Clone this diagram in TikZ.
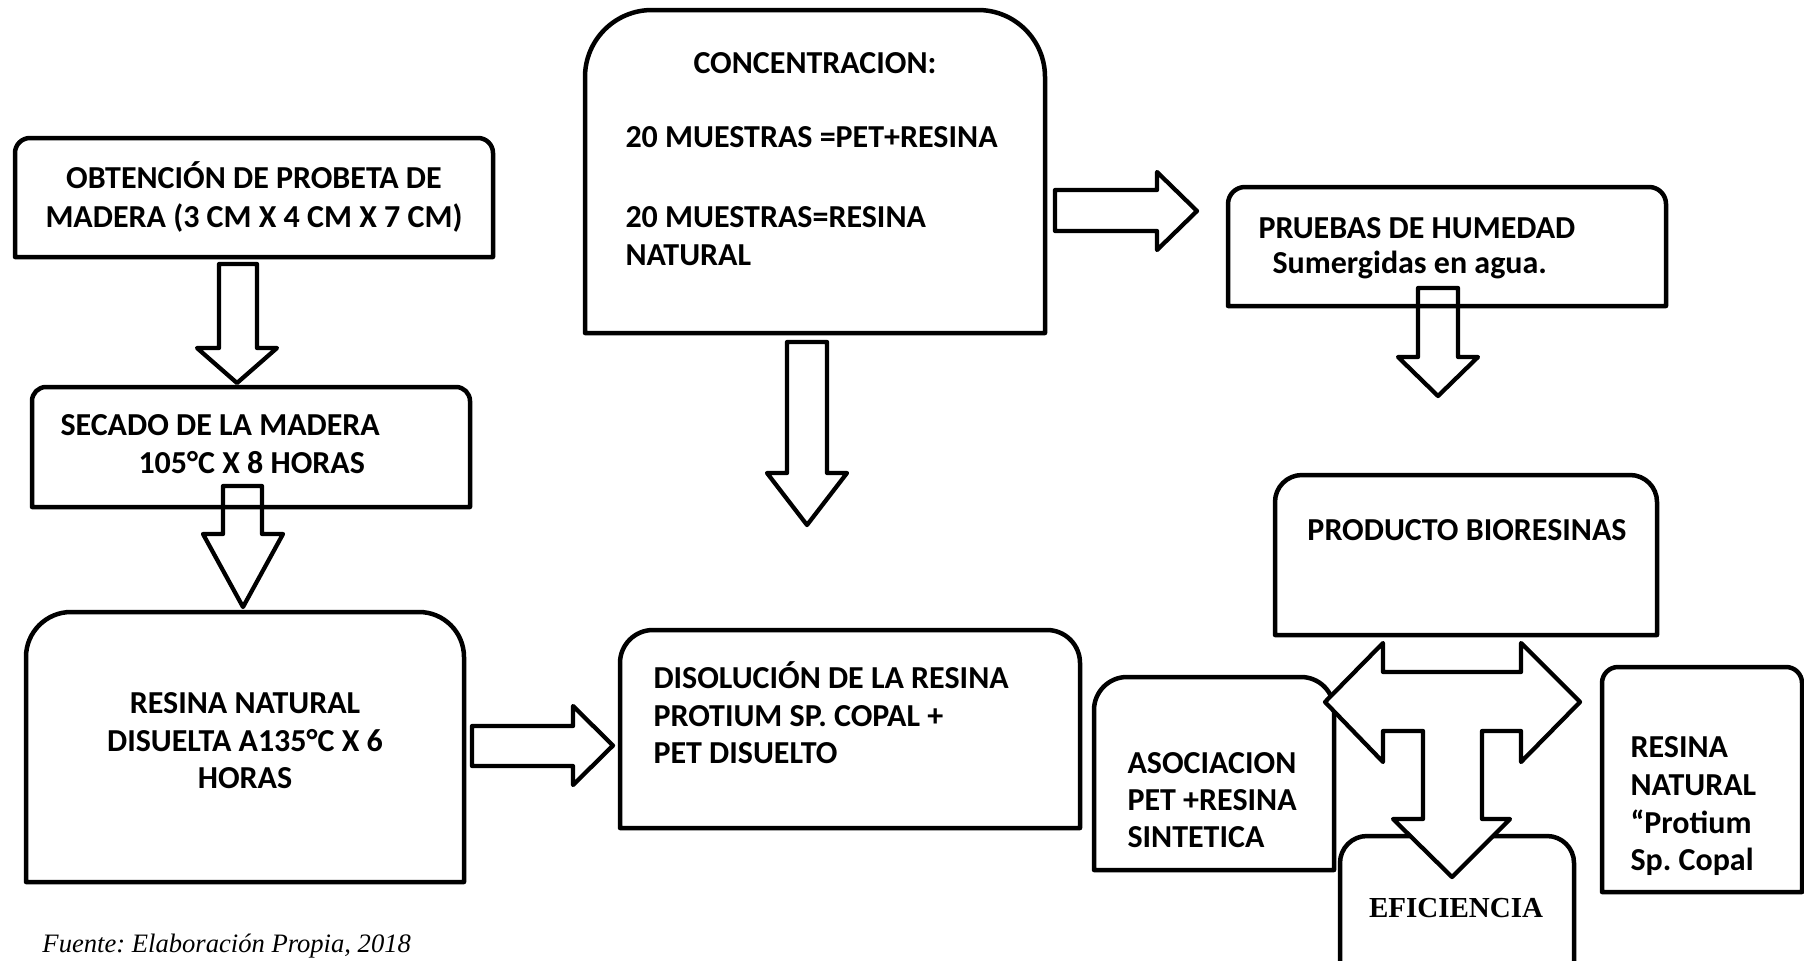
\documentclass[tikz,border=0pt]{standalone}
\usepackage{fontspec}
\setmainfont{Carlito}
\newfontfamily\seriffam{Liberation Serif}
\frenchspacing
% box with rounded top corners: x1 y1 x2 y2 r
\newcommand\topbox[5]{%
  \draw[boxline] (#1,#4) -- (#1,#2+#5) arc[start angle=180,end angle=270,radius=#5]
    -- (#3-#5,#2) arc[start angle=270,end angle=360,radius=#5] -- (#3,#4) -- cycle;}
% down block arrow: shaft x1 x2, top y, head y, head x1 x2, tip y
\newcommand\downblock[7]{%
  \draw[blockarrow] (#1,#3) -- (#2,#3) -- (#2,#4) -- (#6,#4) -- ({(#5+#6)/2},#7)
    -- (#5,#4) -- (#1,#4) -- cycle;}
% right block arrow: shaft y1 y2, left x, head x, head y1 y2, tip x
\newcommand\rightblock[7]{%
  \draw[blockarrow] (#3,#1) -- (#4,#1) -- (#4,#5) -- (#7,{(#5+#6)/2}) -- (#4,#6)
    -- (#4,#2) -- (#3,#2) -- cycle;}
\begin{document}
\begin{tikzpicture}[x=0.4pt,y=-0.4pt,
  boxline/.style={line width=1.8pt,line join=round},
  blockarrow/.style={line width=1.7pt,line join=round},
  lbl/.style={inner sep=0pt,font=\bfseries\fontsize{12.8}{15.2}\selectfont},
  serlbl/.style={inner sep=0pt,font=\seriffam\bfseries\fontsize{11.6}{14}\selectfont},
  foot/.style={inner sep=0pt,font=\seriffam\itshape\fontsize{10.64}{13}\selectfont}]
\useasboundingbox (0,0) rectangle (1804,960);
\clip (0,0) rectangle (1804,960);

% boxes
\topbox{15}{138}{493}{257}{15}
\topbox{32}{387}{470}{507}{14}
\topbox{26}{612}{464}{882}{45}
\topbox{620}{630}{1080}{828}{33}
\topbox{585}{10}{1045}{333}{67}
\topbox{1228}{187}{1666}{306}{17}
\topbox{1275}{475}{1657}{635}{27}
\topbox{1094}{677}{1334}{870}{33}
\topbox{1340}{836}{1574}{980}{27}
\topbox{1602}{667}{1802}{892}{16}

% texts
\node[lbl,anchor=base] (tA1) at (254,188) {OBTENCIÓN DE PROBETA DE};
\node[lbl,anchor=base] (tA2) at (254,227) {MADERA (3 CM X 4 CM X 7 CM)};
\node[lbl,anchor=base west] (tB1) at (60,435) {SECADO DE LA MADERA};
\node[lbl,anchor=base west] (tB2) at (138,473) {105°C X 8 HORAS};
\node[lbl,anchor=base] (tC1) at (245,713) {RESINA NATURAL};
\node[lbl,anchor=base] (tC2) at (245,751) {DISUELTA A135°C X 6};
\node[lbl,anchor=base] (tC3) at (245,788) {HORAS};
\node[lbl,anchor=base west] (tD1) at (653,688) {DISOLUCIÓN DE LA RESINA};
\node[lbl,anchor=base west] (tD2) at (653,726) {PROTIUM SP. COPAL +};
\node[lbl,anchor=base west] (tD3) at (653,763) {PET DISUELTO};
\node[lbl,anchor=base] (tE1) at (815,73) {CONCENTRACION:};
\node[lbl,anchor=base west] (tE2) at (625,147) {20 MUESTRAS =PET+RESINA};
\node[lbl,anchor=base west] (tE3) at (625,227) {20 MUESTRAS=RESINA};
\node[lbl,anchor=base west] (tE4) at (625,265) {NATURAL};
\node[lbl,anchor=base west] (tF1) at (1258,238) {PRUEBAS DE HUMEDAD};
\node[lbl,anchor=base west] (tF2) at (1272,273) {Sumergidas en agua.};
\node[lbl,anchor=base] (tG1) at (1467,540) {PRODUCTO BIORESINAS};
\node[lbl,anchor=base west] (tH1) at (1127,773) {ASOCIACION};
\node[lbl,anchor=base west] (tH2) at (1127,810) {PET +RESINA};
\node[lbl,anchor=base west] (tH3) at (1127,847) {SINTETICA};
\node[lbl,anchor=base west] (tJ1) at (1630,757) {RESINA};
\node[lbl,anchor=base west] (tJ2) at (1630,795) {NATURAL};
\node[lbl,anchor=base west] (tJ3) at (1630,833) {“Protium};
\node[lbl,anchor=base west] (tJ4) at (1630,870) {Sp. Copal};
\node[serlbl,anchor=base] (tI1) at (1456,917) {EFICIENCIA};
\node[foot,anchor=base west] (src) at (42,952) {Fuente: Elaboración Propia, 2018};

% block arrows
\downblock{219}{257}{264}{348}{197}{277}{383}
\downblock{223}{262}{486}{534}{203}{283}{607}
\downblock{787}{827}{342}{473}{767}{847}{525}
\downblock{1418}{1458}{288}{357}{1398}{1478}{396}
\rightblock{190}{231}{1055}{1157}{172}{250}{1197}
\rightblock{726}{766}{472}{573}{706}{785}{613}

% three-way arrow
\draw[blockarrow,fill=white] (1325,702) -- (1383,643) -- (1383,672) -- (1521,672)
  -- (1521,643) -- (1580,702) -- (1521,762) -- (1521,731) -- (1482,731)
  -- (1482,819) -- (1510,819) -- (1452,877) -- (1393,819) -- (1423,819)
  -- (1423,731) -- (1383,731) -- (1383,762) -- cycle;
\end{tikzpicture}
\end{document}
